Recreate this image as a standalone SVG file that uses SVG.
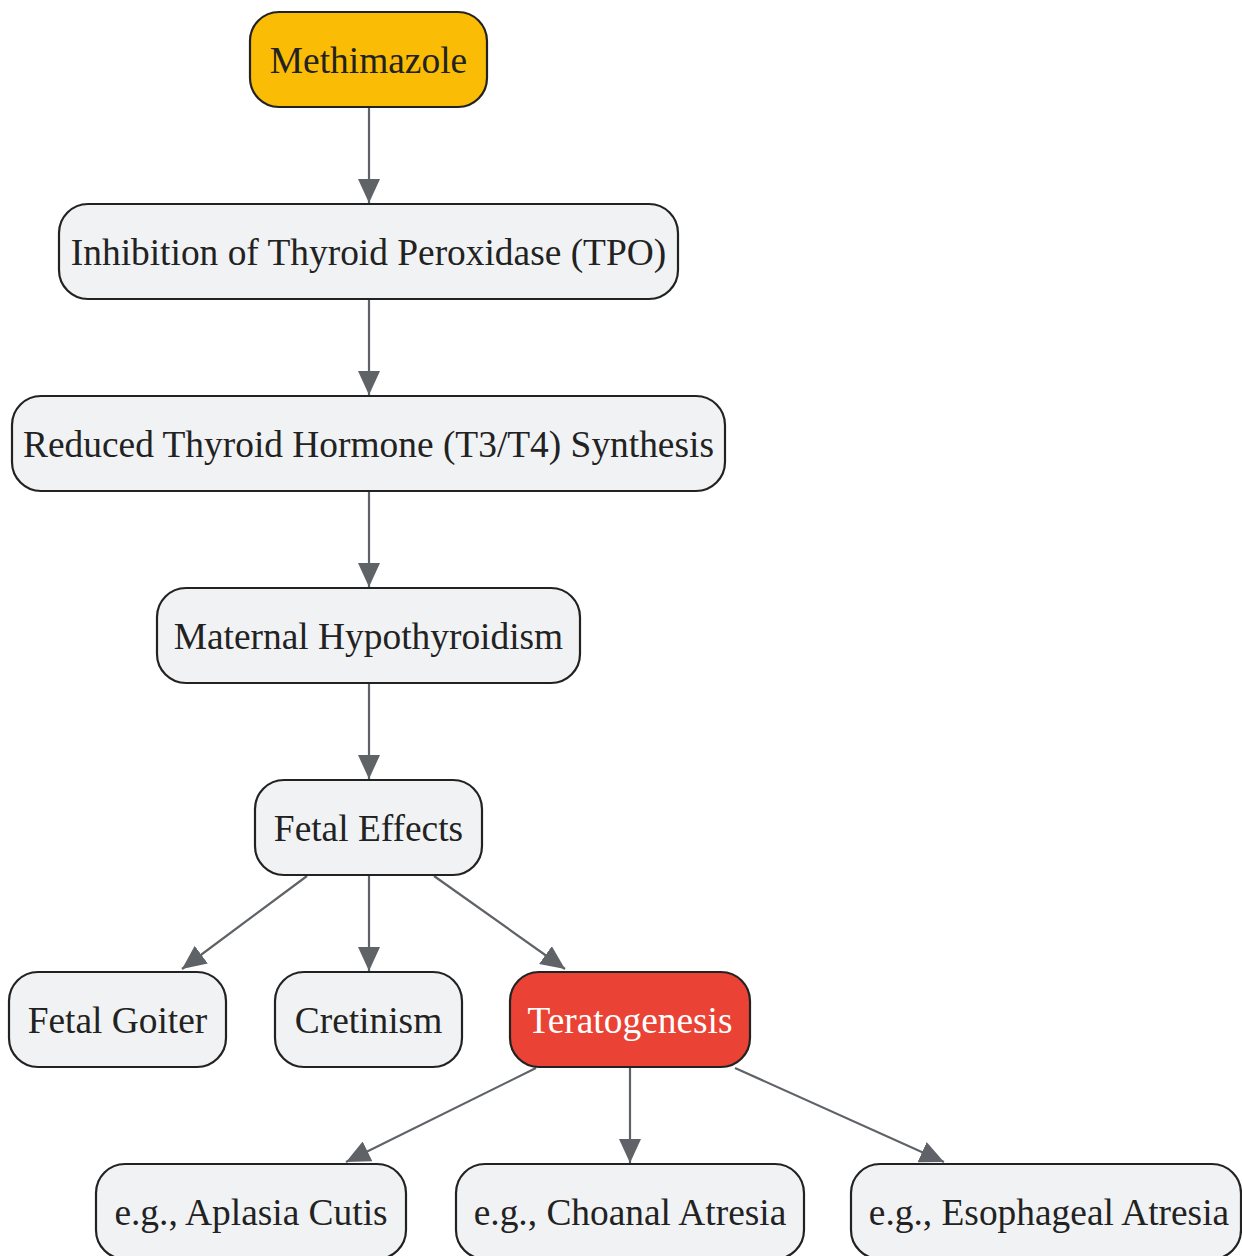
<svg xmlns="http://www.w3.org/2000/svg" width="1242" height="1256" viewBox="0 0 1242 1256">
<style>
.n rect{fill:#f1f2f4;stroke:#222;stroke-width:2.2}
.n text{font-family:"Liberation Serif","Times New Roman",serif;font-size:37.4px;fill:#222;text-anchor:middle}
#methimazole rect{fill:#fbbc05}
#teratogenesis rect{fill:#ea4335}
#teratogenesis text{fill:#fff}
.e line{stroke:#5f6368;stroke-width:2.2;fill:none}
</style>
<defs>
<marker id="ah" markerUnits="userSpaceOnUse" markerWidth="24" markerHeight="22" refX="24" refY="11" orient="auto">
<path d="M0,0 L24,11 L0,22 z" fill="#5f6368"/>
</marker>
</defs>
<rect width="1242" height="1256" fill="#fff"/>
<g class="e">
<line x1="369" y1="107" x2="369" y2="203" marker-end="url(#ah)"/>
<line x1="369" y1="299" x2="369" y2="395" marker-end="url(#ah)"/>
<line x1="369" y1="491" x2="369" y2="587" marker-end="url(#ah)"/>
<line x1="369" y1="683" x2="369" y2="779" marker-end="url(#ah)"/>
<line x1="307" y1="876" x2="182" y2="969" marker-end="url(#ah)"/>
<line x1="369" y1="876" x2="369" y2="971" marker-end="url(#ah)"/>
<line x1="434" y1="876" x2="565" y2="969" marker-end="url(#ah)"/>
<line x1="536" y1="1068" x2="346" y2="1162" marker-end="url(#ah)"/>
<line x1="630" y1="1068" x2="630" y2="1163" marker-end="url(#ah)"/>
<line x1="735" y1="1068" x2="944" y2="1162" marker-end="url(#ah)"/>
</g>
<g id="methimazole" class="n"><rect x="250" y="12" width="237" height="95" rx="29"/><text x="368.5" y="73">Methimazole</text></g>
<g id="inhibition" class="n"><rect x="59" y="204" width="619" height="95" rx="29"/><text x="368.5" y="265">Inhibition of Thyroid Peroxidase (TPO)</text></g>
<g id="reduced" class="n"><rect x="12" y="396" width="713" height="95" rx="29"/><text x="368.5" y="457">Reduced Thyroid Hormone (T3/T4) Synthesis</text></g>
<g id="maternal" class="n"><rect x="157" y="588" width="423" height="95" rx="29"/><text x="368.5" y="649">Maternal Hypothyroidism</text></g>
<g id="fetal-effects" class="n"><rect x="255" y="780" width="227" height="95" rx="29"/><text x="368.5" y="841">Fetal Effects</text></g>
<g id="fetal-goiter" class="n"><rect x="9" y="972" width="217" height="95" rx="29"/><text x="117.5" y="1033">Fetal Goiter</text></g>
<g id="cretinism" class="n"><rect x="275" y="972" width="187" height="95" rx="29"/><text x="368.5" y="1033">Cretinism</text></g>
<g id="teratogenesis" class="n"><rect x="510" y="972" width="240" height="95" rx="29"/><text x="630" y="1033">Teratogenesis</text></g>
<g id="aplasia" class="n"><rect x="96" y="1164" width="310" height="95" rx="29"/><text x="251" y="1225">e.g., Aplasia Cutis</text></g>
<g id="choanal" class="n"><rect x="456" y="1164" width="348" height="95" rx="29"/><text x="630" y="1225">e.g., Choanal Atresia</text></g>
<g id="esophageal" class="n"><rect x="851" y="1164" width="390" height="95" rx="29"/><text x="1049" y="1225">e.g., Esophageal Atresia</text></g>
</svg>
